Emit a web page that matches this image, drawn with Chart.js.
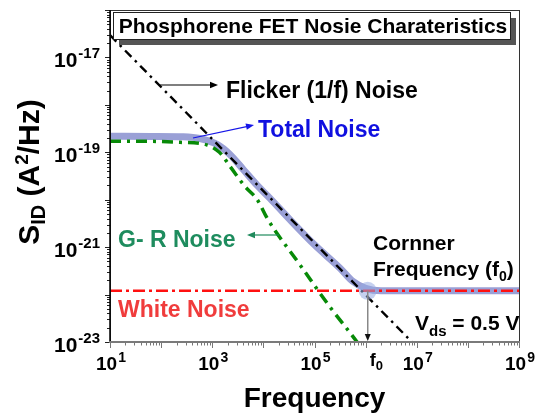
<!DOCTYPE html>
<html>
<head>
<meta charset="utf-8">
<script src="https://cdn.jsdelivr.net/npm/chart.js@4.4.1/dist/chart.umd.min.js"></script>
<style>
  html, body { margin: 0; padding: 0; background: #fff; }
</style>
</head>
<body>
<canvas id="noiseChart" width="536" height="416"></canvas>
<script>
// values (frequency in Hz, S_ID in A^2/Hz)
const freqTotal = [10, 62, 270, 575, 1260, 2240, 4000, 7600, 1.35e4, 3.16e4, 1e5, 3.16e5, 5.6e5, 1e6, 2e6, 1e9];
const totalNoise = [2.19e-19, 2.16e-19, 2.12e-19, 1.95e-19, 1.45e-19, 8.9e-20, 4.4e-20, 2.0e-20, 1.07e-20, 4.0e-21, 1.12e-21, 3.6e-22, 1.9e-22, 1.35e-22, 1.2e-22, 1.2e-22];

const freqGR = [10, 62, 235, 690, 1380, 2240, 4370, 7600, 1.23e4, 5e4, 2e5, 6.8e5, 1e6];
const grNoise = [1.7e-19, 1.7e-19, 1.62e-19, 1.48e-19, 1.0e-19, 5.0e-20, 1.9e-20, 1.0e-20, 3.8e-21, 4.5e-22, 5.5e-23, 1.0e-23, 5.5e-24];

const freqFlicker = [10, 1e7];
const flickerNoise = [2.95e-17, 7.9e-24];

const freqWhite = [10, 1e9];
const whiteNoise = [1.2e-22, 1.2e-22];

const cornerFreq = 1.1e6;
const cornerLevel = 1.2e-22;

const xTickPowers = [1, 3, 5, 7, 9];
const yTickPowers = [-17, -19, -21, -23];

const FONT = '"Liberation Sans", Arial, Helvetica, sans-serif';

function pts(xs, ys) {
  return xs.map((x, i) => ({ x: x, y: ys[i] }));
}

// draw a run of text pieces (normal / sub / sup) and return its width
function rich(ctx, parts, x, y, align) {
  let w = 0;
  parts.forEach(p => {
    ctx.font = 'bold ' + p.size + 'px ' + FONT;
    p.w = ctx.measureText(p.t).width;
    w += p.w + (p.gap || 0);
  });
  let cx = align === 'center' ? x - w / 2 : align === 'right' ? x - w : x;
  ctx.textAlign = 'left';
  ctx.textBaseline = 'alphabetic';
  parts.forEach(p => {
    ctx.font = 'bold ' + p.size + 'px ' + FONT;
    ctx.fillStyle = p.color || '#000';
    cx += (p.gap || 0);
    ctx.fillText(p.t, cx, y + (p.dy || 0));
    cx += p.w;
  });
  return w;
}

function arrow(ctx, x1, y1, x2, y2, color, lw, head) {
  const a = Math.atan2(y2 - y1, x2 - x1);
  ctx.save();
  ctx.strokeStyle = color;
  ctx.fillStyle = color;
  ctx.lineWidth = lw;
  ctx.beginPath();
  ctx.moveTo(x1, y1);
  ctx.lineTo(x2 - Math.cos(a) * head * 0.8, y2 - Math.sin(a) * head * 0.8);
  ctx.stroke();
  ctx.beginPath();
  ctx.moveTo(x2, y2);
  ctx.lineTo(x2 - head * Math.cos(a) + head * 0.4 * Math.sin(a), y2 - head * Math.sin(a) - head * 0.4 * Math.cos(a));
  ctx.lineTo(x2 - head * Math.cos(a) - head * 0.4 * Math.sin(a), y2 - head * Math.sin(a) + head * 0.4 * Math.cos(a));
  ctx.closePath();
  ctx.fill();
  ctx.restore();
}

const decor = {
  id: 'decor',
  afterDraw(chart) {
    const ctx = chart.ctx;
    const xs = chart.scales.x, ys = chart.scales.y;
    const a = chart.chartArea;
    ctx.save();

    // frame
    ctx.strokeStyle = '#333';
    ctx.lineWidth = 1;
    ctx.strokeRect(a.left + 0.5, a.top + 0.5, a.right - a.left, a.bottom - a.top);

    // x ticks (outward)
    ctx.strokeStyle = '#777';
    ctx.lineWidth = 1;
    for (let p = 1; p <= 9; p++) {
      for (let m = 1; m <= 9; m++) {
        const v = m * Math.pow(10, p);
        if (v > 1e9) break;
        const px = Math.round(xs.getPixelForValue(v)) + 0.5;
        ctx.beginPath();
        ctx.moveTo(px, a.bottom);
        ctx.lineTo(px, a.bottom + (m === 1 ? 6 : 3.5));
        ctx.stroke();
      }
    }
    // y ticks (outward)
    ctx.strokeStyle = '#222';
    for (let p = -23; p <= -16; p++) {
      for (let m = 1; m <= 9; m++) {
        const v = m * Math.pow(10, p);
        if (v > 1.0001e-16) break;
        const py = Math.round(ys.getPixelForValue(v)) + 0.5;
        ctx.beginPath();
        ctx.moveTo(a.left, py);
        ctx.lineTo(a.left - (m === 1 ? 5 : 3), py);
        ctx.stroke();
      }
    }

    // axis lines
    ctx.strokeStyle = '#000';
    ctx.lineWidth = 1.5;
    ctx.beginPath();
    ctx.moveTo(a.left, a.top);
    ctx.lineTo(a.left, a.bottom);
    ctx.stroke();
    ctx.strokeStyle = '#7a7a7a';
    ctx.lineWidth = 2;
    ctx.beginPath();
    ctx.moveTo(a.left - 1, a.bottom);
    ctx.lineTo(a.right + 1, a.bottom);
    ctx.stroke();

    // tick labels
    xTickPowers.forEach(p => {
      const px = xs.getPixelForValue(Math.pow(10, p));
      rich(ctx, [{ t: '10', size: 19 }, { t: String(p), size: 14, dy: -8, gap: 1 }], px + 1, a.bottom + 28, 'center');
    });
    yTickPowers.forEach(p => {
      const py = ys.getPixelForValue(Math.pow(10, p));
      rich(ctx, [{ t: '10', size: 21 }, { t: '-' + Math.abs(p), size: 15, dy: -9, gap: 1 }], a.left - 10, py + 10, 'right');
    });

    // axis titles
    rich(ctx, [{ t: 'Frequency', size: 28 }], (a.left + a.right) / 2 + 0, 407, 'center');
    ctx.save();
    ctx.translate(28, 172);
    ctx.rotate(-Math.PI / 2);
    rich(ctx, [
      { t: 'S', size: 30 },
      { t: 'ID', size: 20, dy: 6 },
      { t: ' (A', size: 30 },
      { t: '2', size: 19, dy: -11 },
      { t: '/Hz)', size: 30 }
    ], 0, 11, 'center');
    ctx.restore();

    // corner frequency marker
    const fx = xs.getPixelForValue(cornerFreq);
    const fy = ys.getPixelForValue(cornerLevel);
    ctx.fillStyle = 'rgba(150,170,225,0.55)';
    ctx.beginPath();
    ctx.arc(fx, fy, 9, 0, Math.PI * 2);
    ctx.fill();
    ctx.strokeStyle = '#888';
    ctx.lineWidth = 1.5;
    ctx.beginPath();
    ctx.moveTo(fx, fy);
    ctx.lineTo(fx, a.bottom - 4);
    ctx.stroke();
    ctx.fillStyle = '#111';
    ctx.beginPath();
    ctx.moveTo(fx, a.bottom - 1);
    ctx.lineTo(fx - 3, a.bottom - 8);
    ctx.lineTo(fx + 3, a.bottom - 8);
    ctx.closePath();
    ctx.fill();
    rich(ctx, [{ t: 'f', size: 18 }, { t: '0', size: 13, dy: 4 }], fx + 2, a.bottom + 24, 'left');

    // annotations
    arrow(ctx, 160, 85, 218, 85, '#000', 1.2, 8);
    rich(ctx, [{ t: 'Flicker (1/f) Noise', size: 23 }], 226, 98, 'left');

    arrow(ctx, 193, 138, 254, 125, '#1515e8', 1.2, 8);
    rich(ctx, [{ t: 'Total Noise', size: 23, color: '#1010e0' }], 258, 137, 'left');

    arrow(ctx, 279, 235, 247, 235, '#1f8a5c', 1.2, 8);
    rich(ctx, [{ t: 'G- R Noise', size: 23, color: '#1e8c5e' }], 118, 247, 'left');

    rich(ctx, [{ t: 'White Noise', size: 23, color: '#f03c3c' }], 118, 317, 'left');

    rich(ctx, [{ t: 'Cornner', size: 21 }], 373, 250, 'left');
    rich(ctx, [{ t: 'Frequency (f', size: 21 }, { t: '0', size: 14, dy: 5 }, { t: ')', size: 21 }], 373, 276, 'left');
    rich(ctx, [{ t: 'V', size: 21 }, { t: 'ds', size: 15, dy: 6 }, { t: ' = 0.5 V', size: 21 }], 415, 330, 'left');

    // title box with shadow
    ctx.fillStyle = '#555';
    ctx.fillRect(119, 18, 397, 27);
    ctx.fillStyle = '#fff';
    ctx.fillRect(113, 12, 398, 28);
    ctx.strokeStyle = '#222';
    ctx.lineWidth = 1;
    ctx.strokeRect(113.5, 12.5, 397, 27);
    rich(ctx, [{ t: 'Phosphorene FET Nosie Charateristics', size: 21 }], 313, 33, 'center');

    ctx.restore();
  }
};

const ctx = document.getElementById('noiseChart').getContext('2d');
const chart = new Chart(ctx, {
  type: 'line',
  data: {
    datasets: [
      {
        label: 'Flicker (1/f) Noise',
        data: pts(freqFlicker, flickerNoise),
        borderColor: '#000',
        borderWidth: 2.4,
        borderDash: [9, 5, 2.5, 5],
        pointRadius: 0,
        clip: 0
      },
      {
        label: 'White Noise',
        data: pts(freqWhite, whiteNoise),
        borderColor: '#ff1010',
        borderWidth: 2.5,
        borderDash: [12, 4, 3, 4],
        pointRadius: 0,
        clip: 0
      },
      {
        label: 'G- R Noise',
        data: pts(freqGR, grNoise),
        borderColor: '#078a07',
        borderWidth: 3.5,
        borderDash: [11, 6, 3, 6],
        pointRadius: 0,
        cubicInterpolationMode: 'monotone',
        clip: 0
      },
      {
        label: 'Total Noise',
        data: pts(freqTotal, totalNoise),
        borderColor: '#9aa0d6',
        borderWidth: 7,
        pointRadius: 0,
        cubicInterpolationMode: 'monotone',
        clip: 0
      }
    ]
  },
  options: {
    responsive: false,
    animation: false,
    layout: { padding: { left: 110, top: 10, right: 17, bottom: 74 } },
    plugins: { legend: { display: false }, tooltip: { enabled: false } },
    scales: {
      x: { type: 'logarithmic', min: 10, max: 1e9, display: false },
      y: { type: 'logarithmic', min: 1e-23, max: 1e-16, display: false }
    }
  },
  plugins: [decor]
});
</script>
</body>
</html>
